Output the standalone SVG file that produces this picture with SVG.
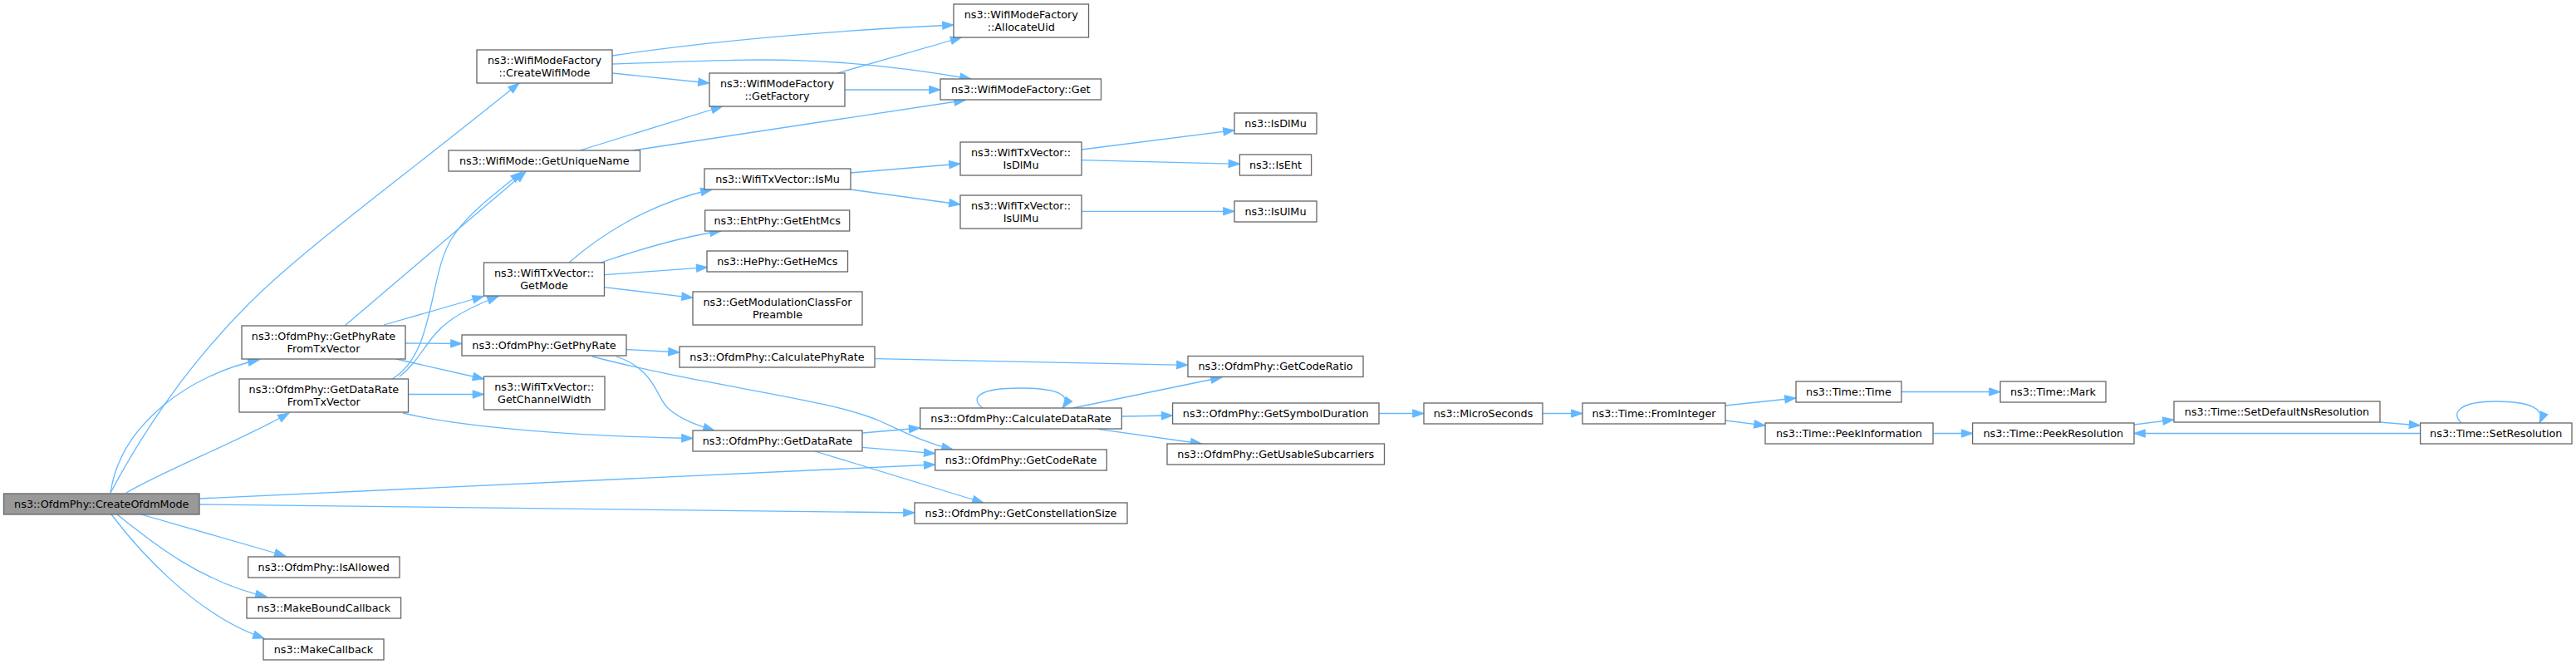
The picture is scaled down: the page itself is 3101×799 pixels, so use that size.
<svg xmlns="http://www.w3.org/2000/svg" width="3101" height="799" viewBox="0 0 3101 799">
<defs>
<style>
.n rect{fill:#ffffff;stroke:#666666;stroke-width:1.3}
.m rect{fill:#999999;stroke:#666666;stroke-width:1.3}
text{font-family:"DejaVu Sans","Liberation Sans",sans-serif;font-size:12.8px;fill:#000000;text-anchor:middle}
#edges path{fill:none;stroke:#63b8ff;stroke-width:1.3;marker-end:url(#ah)}
</style>
<marker id="ah" markerWidth="16" markerHeight="12" refX="13.3" refY="4.7" orient="auto" markerUnits="userSpaceOnUse" overflow="visible">
<path d="M0,0 L13.3,4.7 L0,9.4 z" fill="#63b8ff" stroke="#63b8ff" stroke-width="1"/>
</marker>
</defs>
<rect x="0" y="0" width="3101" height="799" fill="#ffffff"/>
<g id="edges">
<path d="M133,593 C180,505 235,430 300,365 S470,225 625,100"/>
<path d="M133,593 C145,510 230,450 312,433"/>
<path d="M152,593 C200,565 290,530 348,497"/>
<path d="M240,600 L1125.7,559"/>
<path d="M240,607 L1101,617"/>
<path d="M170,619 L343.8,669"/>
<path d="M141,619 C180,650 240,700 321,718"/>
<path d="M134,619 C165,660 235,740 318,768"/>
<path d="M415,392 L633,206.5"/>
<path d="M472,456 C525,425 515,330 545,285 C565,255 600,230 628,207"/>
<path d="M462,391 L582.3,356.5"/>
<path d="M481,453 C505,435 515,405 540,387 C555,376 575,366 600,356.5"/>
<path d="M488,413 L556,413.5"/>
<path d="M477,432 L582.5,456"/>
<path d="M491.5,474.5 L582.5,474.5"/>
<path d="M485,497 C560,515 700,525 834,527.5"/>
<path d="M754,420.5 L818,424"/>
<path d="M713,429 C850,465 1000,480 1060,507 C1085,518 1110,532 1147,541"/>
<path d="M742,429 C790,445 790,480 805,492 C820,505 840,512 860,518"/>
<path d="M737,67 C850,50 1000,37 1148,30"/>
<path d="M737,77 C880,73 980,62 1169,95"/>
<path d="M737,88 L854,100"/>
<path d="M1008,88 L1157.6,45"/>
<path d="M1017,108 L1132,108"/>
<path d="M698,181 L869.6,128"/>
<path d="M762,181 L1162,120.5"/>
<path d="M685,316 C720,285 780,245 857,228"/>
<path d="M723,316 C770,300 820,285 868,278"/>
<path d="M727.7,330.7 L851.7,321.7"/>
<path d="M727.7,345.7 L834,358.3"/>
<path d="M1023.7,208 L1156,197"/>
<path d="M1023.7,228 L1156,246"/>
<path d="M1302,180 L1486,156.7"/>
<path d="M1302,192.7 L1492.4,197.3"/>
<path d="M1302,254.3 L1486,254.3"/>
<path d="M1053.3,431.7 L1430,439.3"/>
<path d="M1038.3,521 L1107.7,515"/>
<path d="M1038.3,538.3 L1125.7,545.7"/>
<path d="M981,543 L1184,605"/>
<path d="M1183,491 C1168,480 1175,467 1228,467 C1275,467 1290,476 1279,491"/>
<path d="M1291.7,491 L1471,454"/>
<path d="M1350.3,501 L1411.6,500"/>
<path d="M1321.7,516.3 L1446.7,534"/>
<path d="M1660,497.5 L1714,497.5"/>
<path d="M1857,497.5 L1905,497.5"/>
<path d="M2077,488 L2162,479"/>
<path d="M2077,506 L2125,512"/>
<path d="M2289,471.5 L2408,471.5"/>
<path d="M2327,521.5 L2374.6,521.5"/>
<path d="M2569,511 L2617,505"/>
<path d="M2865,508 L2913.6,512"/>
<path d="M2913.6,521.5 L2569,521.5"/>
<path d="M2963,509 C2950,497 2960,483 3005,483 C3045,483 3065,492 3057,509"/>
</g>
<g id="n_CreateOfdmMode" class="m"><rect x="4.5" y="594" width="235.5" height="25"/><text x="122.3" y="610.5">ns3::OfdmPhy::CreateOfdmMode</text></g>
<g id="n_CreateWifiMode" class="n"><rect x="574" y="60" width="163" height="40"/><text x="655.5" y="76.5">ns3::WifiModeFactory</text><text x="655.5" y="91.5">::CreateWifiMode</text></g>
<g id="n_GetUniqueName" class="n"><rect x="540" y="181" width="230.5" height="25"/><text x="655.3" y="197.5">ns3::WifiMode::GetUniqueName</text></g>
<g id="n_GetMode" class="n"><rect x="582.5" y="316" width="145" height="40"/><text x="655" y="332.5">ns3::WifiTxVector::</text><text x="655" y="347.5">GetMode</text></g>
<g id="n_GetPhyRateFromTxVector" class="n"><rect x="291" y="392" width="197" height="40"/><text x="389.5" y="408.5">ns3::OfdmPhy::GetPhyRate</text><text x="389.5" y="423.5">FromTxVector</text></g>
<g id="n_GetDataRateFromTxVector" class="n"><rect x="288" y="456" width="203.5" height="40"/><text x="389.8" y="472.5">ns3::OfdmPhy::GetDataRate</text><text x="389.8" y="487.5">FromTxVector</text></g>
<g id="n_IsAllowed" class="n"><rect x="298.7" y="670" width="182.3" height="25"/><text x="389.8" y="686.5">ns3::OfdmPhy::IsAllowed</text></g>
<g id="n_MakeBoundCallback" class="n"><rect x="297" y="719" width="185.6" height="25"/><text x="389.8" y="735.5">ns3::MakeBoundCallback</text></g>
<g id="n_MakeCallback" class="n"><rect x="317" y="769" width="145" height="25"/><text x="389.5" y="785.5">ns3::MakeCallback</text></g>
<g id="n_GetPhyRate" class="n"><rect x="556" y="403" width="198" height="25"/><text x="655" y="419.5">ns3::OfdmPhy::GetPhyRate</text></g>
<g id="n_GetChannelWidth" class="n"><rect x="582.5" y="453" width="145.5" height="40"/><text x="655.3" y="469.5">ns3::WifiTxVector::</text><text x="655.3" y="484.5">GetChannelWidth</text></g>
<g id="n_AllocateUid" class="n"><rect x="1148" y="5" width="162.5" height="40"/><text x="1229.3" y="21.5">ns3::WifiModeFactory</text><text x="1229.3" y="36.5">::AllocateUid</text></g>
<g id="n_GetFactory" class="n"><rect x="854" y="88" width="163" height="40"/><text x="935.5" y="104.5">ns3::WifiModeFactory</text><text x="935.5" y="119.5">::GetFactory</text></g>
<g id="n_Get" class="n"><rect x="1132" y="95" width="193.5" height="25"/><text x="1228.8" y="111.5">ns3::WifiModeFactory::Get</text></g>
<g id="n_IsMu" class="n"><rect x="848" y="203" width="176" height="25"/><text x="936" y="219.5">ns3::WifiTxVector::IsMu</text></g>
<g id="n_TxIsDlMu" class="n"><rect x="1156" y="171" width="146" height="40"/><text x="1229" y="187.5">ns3::WifiTxVector::</text><text x="1229" y="202.5">IsDlMu</text></g>
<g id="n_TxIsUlMu" class="n"><rect x="1156" y="235" width="146" height="40"/><text x="1229" y="251.5">ns3::WifiTxVector::</text><text x="1229" y="266.5">IsUlMu</text></g>
<g id="n_GetEhtMcs" class="n"><rect x="848.7" y="253" width="174" height="25"/><text x="935.7" y="269.5">ns3::EhtPhy::GetEhtMcs</text></g>
<g id="n_GetHeMcs" class="n"><rect x="851" y="302" width="169.5" height="25"/><text x="935.8" y="318.5">ns3::HePhy::GetHeMcs</text></g>
<g id="n_GetModulationClassForPreamble" class="n"><rect x="834" y="351" width="204" height="40"/><text x="936" y="367.5">ns3::GetModulationClassFor</text><text x="936" y="382.5">Preamble</text></g>
<g id="n_IsDlMu" class="n"><rect x="1486" y="136" width="99" height="25"/><text x="1535.5" y="152.5">ns3::IsDlMu</text></g>
<g id="n_IsEht" class="n"><rect x="1492.4" y="186" width="86.2" height="25"/><text x="1535.5" y="202.5">ns3::IsEht</text></g>
<g id="n_IsUlMu" class="n"><rect x="1486" y="242" width="99" height="25"/><text x="1535.5" y="258.5">ns3::IsUlMu</text></g>
<g id="n_CalculatePhyRate" class="n"><rect x="818" y="417" width="235" height="25"/><text x="935.5" y="433.5">ns3::OfdmPhy::CalculatePhyRate</text></g>
<g id="n_CalculateDataRate" class="n"><rect x="1107.7" y="491" width="242.6" height="25"/><text x="1229" y="507.5">ns3::OfdmPhy::CalculateDataRate</text></g>
<g id="n_GetDataRate" class="n"><rect x="834" y="518" width="204" height="25"/><text x="936" y="534.5">ns3::OfdmPhy::GetDataRate</text></g>
<g id="n_GetCodeRate" class="n"><rect x="1125.7" y="541" width="206.6" height="25"/><text x="1229" y="557.5">ns3::OfdmPhy::GetCodeRate</text></g>
<g id="n_GetConstellationSize" class="n"><rect x="1101" y="605" width="256" height="25"/><text x="1229" y="621.5">ns3::OfdmPhy::GetConstellationSize</text></g>
<g id="n_GetCodeRatio" class="n"><rect x="1430" y="428.5" width="211" height="25"/><text x="1535.5" y="445">ns3::OfdmPhy::GetCodeRatio</text></g>
<g id="n_GetSymbolDuration" class="n"><rect x="1411.6" y="485" width="248.4" height="25"/><text x="1535.8" y="501.5">ns3::OfdmPhy::GetSymbolDuration</text></g>
<g id="n_MicroSeconds" class="n"><rect x="1714" y="485" width="143" height="25"/><text x="1785.5" y="501.5">ns3::MicroSeconds</text></g>
<g id="n_FromInteger" class="n"><rect x="1905" y="485" width="172" height="25"/><text x="1991" y="501.5">ns3::Time::FromInteger</text></g>
<g id="n_GetUsableSubcarriers" class="n"><rect x="1405" y="534" width="261.5" height="25"/><text x="1535.8" y="550.5">ns3::OfdmPhy::GetUsableSubcarriers</text></g>
<g id="n_TimeTime" class="n"><rect x="2162" y="459" width="127" height="25"/><text x="2225.5" y="475.5">ns3::Time::Time</text></g>
<g id="n_Mark" class="n"><rect x="2408" y="459" width="127" height="25"/><text x="2471.5" y="475.5">ns3::Time::Mark</text></g>
<g id="n_PeekInformation" class="n"><rect x="2125" y="509" width="202" height="25"/><text x="2226" y="525.5">ns3::Time::PeekInformation</text></g>
<g id="n_PeekResolution" class="n"><rect x="2374.6" y="509" width="194.4" height="25"/><text x="2471.8" y="525.5">ns3::Time::PeekResolution</text></g>
<g id="n_SetDefaultNsResolution" class="n"><rect x="2617" y="483" width="248" height="25"/><text x="2741" y="499.5">ns3::Time::SetDefaultNsResolution</text></g>
<g id="n_SetResolution" class="n"><rect x="2913.6" y="509" width="182.4" height="25"/><text x="3004.8" y="525.5">ns3::Time::SetResolution</text></g>
</svg>
